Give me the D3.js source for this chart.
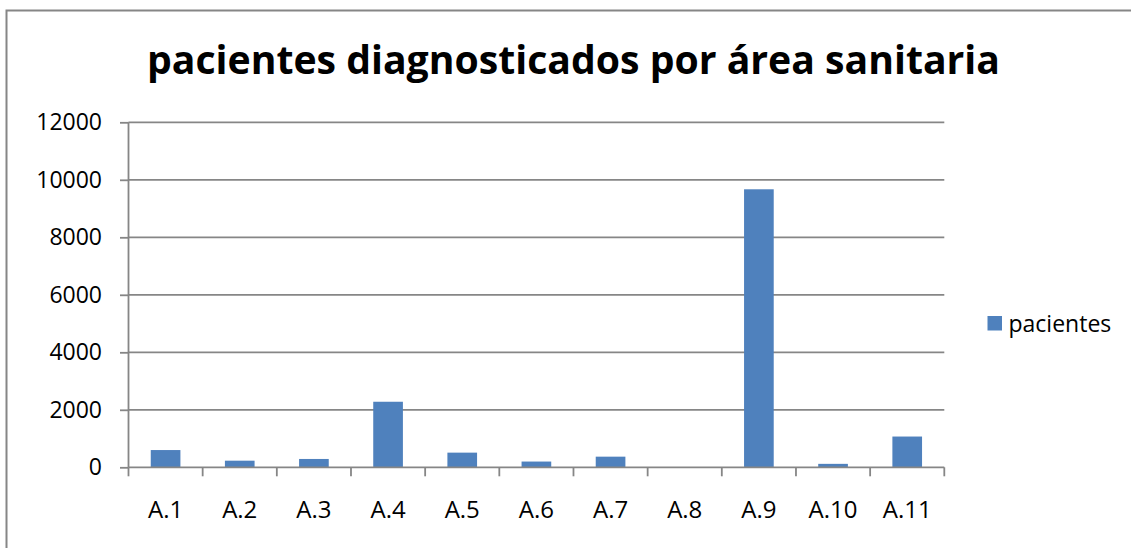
<!DOCTYPE html>
<html>
<head>
<meta charset="utf-8">
<script src="https://cdn.jsdelivr.net/npm/d3@7"></script>
<style>
  body { margin: 0; background: #fff; }
  text { font-family: "Open Sans", "Liberation Sans", sans-serif; fill: #000; }
</style>
</head>
<body>
<div class="chart"></div>
<script>
// data
const areas = ['A.1', 'A.2', 'A.3', 'A.4', 'A.5', 'A.6', 'A.7', 'A.8', 'A.9', 'A.10', 'A.11'];
const pacientes = [600, 230, 290, 2280, 510, 200, 370, 0, 9670, 120, 1070];
const yTicks = [0, 2000, 4000, 6000, 8000, 10000, 12000];

const W = 1131, H = 548;
const margin = { top: 122.3, right: 186.7, bottom: 80.7, left: 128.5 };
const width = W - margin.left - margin.right;
const height = H - margin.top - margin.bottom;

const root = d3.select('.chart')
  .append('svg')
  .attr('width', W)
  .attr('height', H);

// outer chart border
root.append('rect')
  .attr('x', 6.5)
  .attr('y', 10.5)
  .attr('width', W + 20)
  .attr('height', H + 20)
  .style('fill', 'none')
  .style('stroke', '#868686')
  .style('stroke-width', 2);

root.append('text')
  .attr('x', 573.5)
  .attr('y', 74)
  .attr('text-anchor', 'middle')
  .attr('textLength', 853)
  .attr('lengthAdjust', 'spacingAndGlyphs')
  .style('font-size', '40px')
  .style('font-weight', 'bold')
  .text('pacientes diagnosticados por área sanitaria');

const svg = root.append('g')
  .attr('transform', `translate(${margin.left}, ${margin.top})`);

const yScale = d3.scaleLinear()
  .domain([0, 12000])
  .range([height, 0]);

const xScale = d3.scaleBand()
  .domain(areas)
  .range([0, width])
  .paddingInner(0.6)
  .paddingOuter(0.3);

// gridlines
svg.append('g')
  .selectAll('line')
  .data(yTicks.filter(d => d > 0))
  .join('line')
  .attr('x1', 0)
  .attr('x2', width)
  .attr('y1', d => yScale(d))
  .attr('y2', d => yScale(d))
  .style('stroke', '#868686')
  .style('stroke-width', 1.8);

svg.selectAll('.bar')
  .data(pacientes)
  .join('rect')
  .attr('class', 'bar')
  .attr('x', (d, i) => xScale(areas[i]))
  .attr('y', d => yScale(d))
  .attr('width', xScale.bandwidth())
  .attr('height', d => height - yScale(d))
  .style('fill', '#4f81bd');

const yAxis = d3.axisLeft(yScale)
  .tickValues(yTicks)
  .tickSize(8.5)
  .tickPadding(18)
  .tickFormat(d3.format('d'));

const yG = svg.append('g').call(yAxis);
yG.select('.domain').attr('d', `M0,0V${height}`);

// x axis: ticks sit on the category boundaries
const step = width / areas.length;
const xG = svg.append('g')
  .attr('transform', `translate(0, ${height})`);
xG.append('line')
  .attr('x1', 0).attr('x2', width)
  .style('stroke', '#868686')
  .style('stroke-width', 1.8);
xG.selectAll('.xt')
  .data(d3.range(areas.length + 1))
  .join('line')
  .attr('class', 'xt')
  .attr('x1', i => i * step).attr('x2', i => i * step)
  .attr('y1', 0).attr('y2', 9)
  .style('stroke', '#868686')
  .style('stroke-width', 1.8);
xG.selectAll('.xl')
  .data(areas)
  .join('text')
  .attr('class', 'xl')
  .attr('x', d => xScale(d) + xScale.bandwidth() / 2)
  .attr('y', 42.5)
  .attr('dy', '0.35em')
  .attr('text-anchor', 'middle')
  .style('font-size', '24px')
  .text(d => d);

yG.selectAll('.domain, .tick line')
  .style('stroke', '#868686')
  .style('stroke-width', 1.8);
yG.selectAll('text')
  .style('font-size', '23px')
  .style('font-family', '"Open Sans", "Liberation Sans", sans-serif');

// legend
const legend = root.append('g')
  .attr('transform', 'translate(987.5, 316)');
legend.append('rect')
  .attr('width', 14.5)
  .attr('height', 14.5)
  .style('fill', '#4f81bd');
legend.append('text')
  .attr('x', 21)
  .attr('y', 7.5)
  .attr('dy', '0.35em')
  .style('font-size', '23px')
  .text('pacientes');
</script>
</body>
</html>
